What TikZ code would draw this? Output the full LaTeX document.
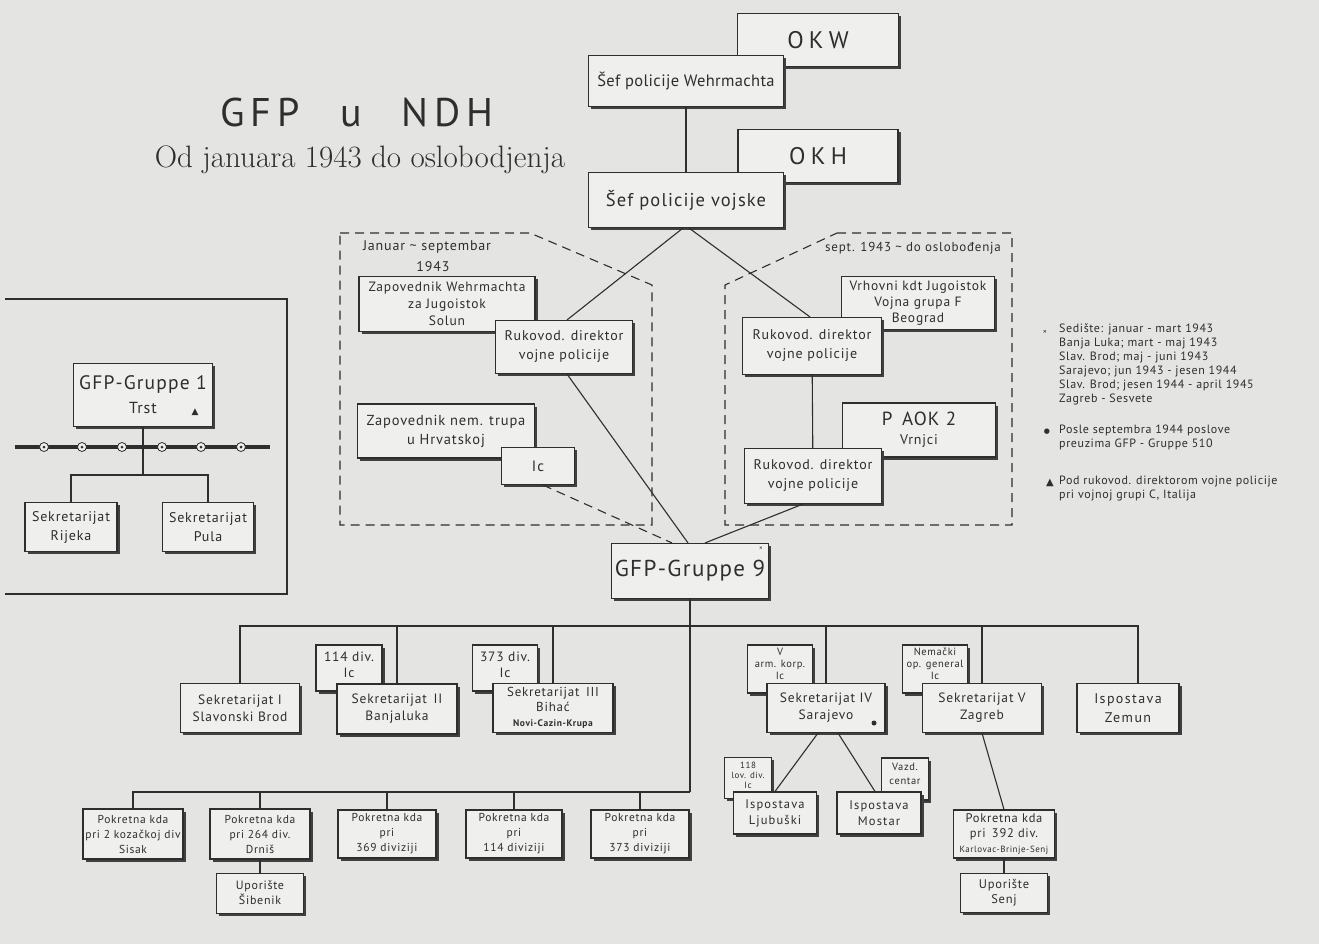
\documentclass[tikz,border=0pt]{standalone}
\usepackage{fontspec}
\setsansfont{PT Sans}
\renewcommand{\familydefault}{\sfdefault}
\newfontfamily\simboli{DejaVu Sans}
\newfontfamily\naslovfont{Latin Modern Roman}
\usetikzlibrary{positioning, shadows}

\definecolor{papir}{HTML}{E4E4E2}
\definecolor{karton}{HTML}{EFEFED}
\definecolor{tus}{HTML}{2E2E2E}

\tikzset{
  blok/.style={rectangle, draw=tus, line width=1.1pt, fill=karton,
    align=center, inner sep=1pt, text=tus,
    font=\fontsize{13.5}{17}\selectfont\addfontfeatures{LetterSpace=6},
    drop shadow={shadow xshift=2.5pt, shadow yshift=-2.5pt,
      fill=black!75, opacity=1}},
  vel/.style 2 args={minimum width=#1pt, minimum height=#2pt},
  slova/.style 2 args={font=\fontsize{#1}{#2}\selectfont\addfontfeatures{LetterSpace=6}},
  zadnji/.style={align=center, inner sep=0pt, text=tus},
  veza/.style={draw=tus, line width=1.1pt},
  isprek/.style={draw=tus, line width=1.1pt, dash pattern=on 9pt off 6pt},
  natpis/.style={text=tus, inner sep=0pt},
  leg/.style={anchor=north west, align=left, inner sep=0pt, text=tus,
    font=\fontsize{12}{14}\selectfont\addfontfeatures{LetterSpace=5}},
}

\begin{document}
\begin{tikzpicture}[x=1pt, y=-1pt]
  \fill[papir] (0,0) rectangle (1319,944);
  \useasboundingbox (0,0) rectangle (1319,944);

  % naslov
  \node[text=tus, font=\fontsize{40}{44}\selectfont\addfontfeatures{LetterSpace=15}]
    (naslov) at (357,113) {GFP\quad u\quad NDH};
  \node[text=tus, font=\naslovfont\fontsize{31}{34}\selectfont]
    (podnaslov) at (360,160) {Od januara 1943 do oslobodjenja};

  % okviri perioda
  \draw[isprek] (340,233) -- (530,233) -- (652,285) -- (652,525) -- (340,525) -- cycle;
  \draw[isprek] (837,233) -- (1012,233) -- (1012,525) -- (725,525) -- (725,285) -- cycle;
  \node[natpis, slova={14}{17}] (period1) at (427,247) {Januar \textasciitilde{} septembar};
  \node[natpis, slova={14}{17}] (godina)  at (433,267) {1943};
  \node[natpis, slova={13}{15}] (period2) at (913,248) {sept. 1943 \textasciitilde{} do oslobođenja};

  % vrh
  \node[blok, vel={161}{53}, font=\fontsize{24}{26}\selectfont\addfontfeatures{LetterSpace=22}]
    (okw) at (818,40) {OKW};
  \node[blok, vel={195}{51}, font=\fontsize{16.5}{20}\selectfont\addfontfeatures{LetterSpace=2}]
    (wehr) at (686,81) {Šef policije Wehrmachta};
  \node[blok, vel={160}{53}, font=\fontsize{24}{26}\selectfont\addfontfeatures{LetterSpace=22}]
    (okh) at (818,156) {OKH};
  \node[blok, vel={195}{55}, slova={18.5}{20}] (vojske) at (686,200) {Šef policije vojske};

  % januar - septembar 1943
  \node[blok, vel={176}{55}, slova={13.5}{17}]
    (zapweh) at (447,304) {Zapovednik Wehrmachta\\za Jugoistok\\Solun};
  \node[blok, vel={137}{53}, slova={14}{19}]
    (rukl) at (564,347) {Rukovod. direktor\\vojne policije};
  \node[blok, vel={177}{54}, slova={14.5}{19}]
    (zapnem) at (446,431) {Zapovednik nem. trupa\\u Hrvatskoj};
  \node[blok, vel={73}{37}, slova={15}{16}] (icl) at (538,466) {Ic};

  % sept. 1943 - oslobodjenje
  \node[blok, vel={153}{53}, slova={13.5}{16}]
    (vrh) at (918,303) {Vrhovni kdt Jugoistok\\Vojna grupa F\\Beograd};
  \node[blok, vel={139}{57}, slova={14}{19}]
    (rukr) at (812,346) {Rukovod. direktor\\vojne policije};
  \node[blok, vel={153}{54}, slova={14}{19}]
    (aok) at (919,430) {{\fontsize{19}{20}\selectfont P\enspace AOK 2}\\Vrnjci};
  \node[blok, vel={137}{55}, slova={14}{19}]
    (rukr2) at (813,476) {Rukovod. direktor\\vojne policije};

  \node[blok, vel={157}{55}, slova={23}{24}] (gfp9) at (690,571) {GFP-Gruppe 9};
  \node[text=tus, font=\fontsize{7}{7}\selectfont] (zv9) at (761,549) {×};

  % Trst
  \draw[veza] (5,299) -- (287,299) -- (287,594) -- (5,594);
  \node[blok, vel={139}{63}, slova={16}{24}]
    (g1) at (143,395) {{\fontsize{19.5}{20}\selectfont GFP-Gruppe 1}\\Trst};
  \node[text=tus, font=\simboli\fontsize{9}{9}\selectfont] (trokut1) at (195,412) {▲};
  \draw[draw=tus, line width=4pt] (15,447) -- (270,447);
  \foreach \x in {44,82,122,162,201,241} {
    \draw[fill=karton, draw=tus, line width=0.8pt] (\x,447) circle (4.5pt);
    \fill[tus] (\x,447) circle (1.5pt);
  }
  \node[blok, vel={92}{49}, slova={14}{19}] (rijeka) at (71,527) {Sekretarijat\\Rijeka};
  \node[blok, vel={91}{49}, slova={14}{19}] (pula) at (208,527) {Sekretarijat\\Pula};

  % sekretarijati
  \node[blok, vel={119}{49}] (sek1) at (240,708) {Sekretarijat I\\Slavonski Brod};
  \node[blok, vel={66}{46},
    label={[zadnji, slova={13.5}{16}, yshift=3pt]center:{114 div.\\Ic}}] (div114) at (349,668) {};
  \node[blok, vel={120}{50}] (sek2) at (397,709) {Sekretarijat\enspace II\\Banjaluka};
  \node[blok, vel={65}{46},
    label={[zadnji, slova={13.5}{16}, yshift=3pt]center:{373 div.\\Ic}}] (div373) at (505,668) {};
  \node[blok, vel={120}{49}, slova={13}{15}] (sek3) at (553,708)
    {Sekretarijat\enspace III\\Bihać\\{\fontsize{9.5}{11}\selectfont\bfseries Novi-Cazin-Krupa}};
  \node[blok, vel={65}{48},
    label={[zadnji, slova={10.5}{12}, yshift=5pt]center:{V\\arm. korp.\\Ic}}] (armkorp) at (780,669) {};
  \node[blok, vel={118}{49}] (sek4) at (826,708) {Sekretarijat IV\\Sarajevo};
  \fill[tus] (874,723) circle (2.5pt);
  \node[blok, vel={65}{48},
    label={[zadnji, slova={10.5}{12}, yshift=5pt]center:{Nemački\\op. general\\Ic}}] (nemacki) at (935,669) {};
  \node[blok, vel={119}{49}] (sek5) at (982,708) {Sekretarijat V\\Zagreb};
  \node[blok, vel={102}{49}, font=\fontsize{14}{19}\selectfont\addfontfeatures{LetterSpace=10}]
    (zemun) at (1128,708) {Ispostava\\Zemun};

  % pokretne komande
  \node[blok, vel={100}{50}, slova={11.5}{15}]
    (pk1) at (133,834) {Pokretna kda\\pri 2 kozačkoj div\\Sisak};
  \node[blok, vel={100}{50}, slova={11.5}{15}]
    (pk2) at (260,834) {Pokretna kda\\pri 264 div.\\Drniš};
  \node[blok, vel={98}{48}, slova={11.5}{15}]
    (pk3) at (387,834) {Pokretna kda\\pri\\369 diviziji};
  \node[blok, vel={96}{48}, slova={11.5}{15}]
    (pk4) at (514,834) {Pokretna kda\\pri\\114 diviziji};
  \node[blok, vel={98}{48}, slova={11.5}{15}]
    (pk5) at (640,834) {Pokretna kda\\pri\\373 diviziji};
  \node[blok, vel={87}{40}, slova={12}{15}, below=13pt of pk2]
    (sibenik) {Uporište\\Šibenik};

  \node[blok, vel={47}{41},
    label={[zadnji, slova={9}{10}, yshift=3pt]center:{118\\lov. div.\\Ic}}] (lov118) at (748,778) {};
  \node[blok, vel={83}{42}, font=\fontsize{12.5}{16}\selectfont\addfontfeatures{LetterSpace=9}]
    (ljub) at (775,813) {Ispostava\\Ljubuški};
  \node[blok, vel={47}{42},
    label={[zadnji, slova={10.5}{14}, yshift=5pt]center:{Vazd.\\centar}}] (vazd) at (905,779) {};
  \node[blok, vel={84}{42}, font=\fontsize{12.5}{16}\selectfont\addfontfeatures{LetterSpace=9}]
    (mostar) at (879,813) {Ispostava\\Mostar};
  \node[blok, vel={101}{48}, slova={12.5}{15}]
    (pk392) at (1004,834) {Pokretna kda\\pri\enspace 392 div.\\{\fontsize{9}{10}\selectfont Karlovac-Brinje-Senj}};
  \node[blok, vel={87}{39}, slova={12.5}{15}, below=14pt of pk392]
    (senj) {Uporište\\Senj};

  % legenda
  \node[text=tus, font=\fontsize{8}{8}\selectfont] (zv) at (1045,332) {×};
  \node[leg] (sediste) at (1059,324) {Sedište: januar - mart 1943\\Banja Luka; mart - maj 1943\\Slav. Brod; maj - juni 1943\\Sarajevo; jun 1943 - jesen 1944\\Slav. Brod; jesen 1944 - april 1945\\Zagreb - Sesvete};
  \node[text=tus, font=\simboli\fontsize{7}{7}\selectfont] (tacka) at (1047,432) {●};
  \node[leg] (posle) at (1059,425) {Posle septembra 1944 poslove\\preuzima GFP - Gruppe 510};
  \node[text=tus, font=\simboli\fontsize{10}{10}\selectfont] (trokut) at (1050,483) {▲};
  \node[leg] (podruk) at (1059,476) {Pod rukovod. direktorom vojne policije\\pri vojnoj grupi C, Italija};

  % veze
  \draw[veza] (wehr) -- (vojske);
  \draw[veza] ([xshift=-3pt]vojske.south) -- ([xshift=3pt]rukl.north);
  \draw[veza] ([xshift=3pt]vojske.south) -- ([xshift=-2pt]rukr.north);
  \draw[veza] ([xshift=3pt]rukl.south) -- ([xshift=-2pt]gfp9.north);
  \draw[veza] (rukr) -- (rukr2);
  \draw[veza] ([xshift=-10pt]rukr2.south) -- ([xshift=15pt]gfp9.north);
  \draw[isprek] ([xshift=5pt]icl.south) -- ([xshift=-18pt]gfp9.north);

  \coordinate (g1bar) at (143,475);
  \draw[veza] (g1.south) -- (g1bar);
  \draw[veza] (rijeka.north) |- (g1bar) -| (pula.north);

  \coordinate (sekbar) at (689,626);
  \coordinate (pkbar) at (689,792);
  \draw[veza] (gfp9.south) -- (gfp9.south |- pkbar);
  \draw[veza] (sek1.north) |- (sekbar) -| ([xshift=10pt]zemun.north);
  \foreach \n in {sek2, sek3, sek4, sek5}
    \draw[veza] (\n.north) -- (\n.north |- sekbar);
  \draw[veza] (pk1.north) |- (gfp9.south |- pkbar);
  \foreach \n in {pk2, pk3, pk4, pk5}
    \draw[veza] (\n.north) -- (\n.north |- pkbar);
  \draw[veza] (pk2) -- (sibenik);

  \draw[veza] ([xshift=-8pt]sek4.south) -- (ljub.north);
  \draw[veza] ([xshift=12pt]sek4.south) -- ([xshift=-4pt]mostar.north);
  \draw[veza] (sek5.south) -- (pk392.north);
  \draw[veza] (pk392) -- (senj);
\end{tikzpicture}
\end{document}
